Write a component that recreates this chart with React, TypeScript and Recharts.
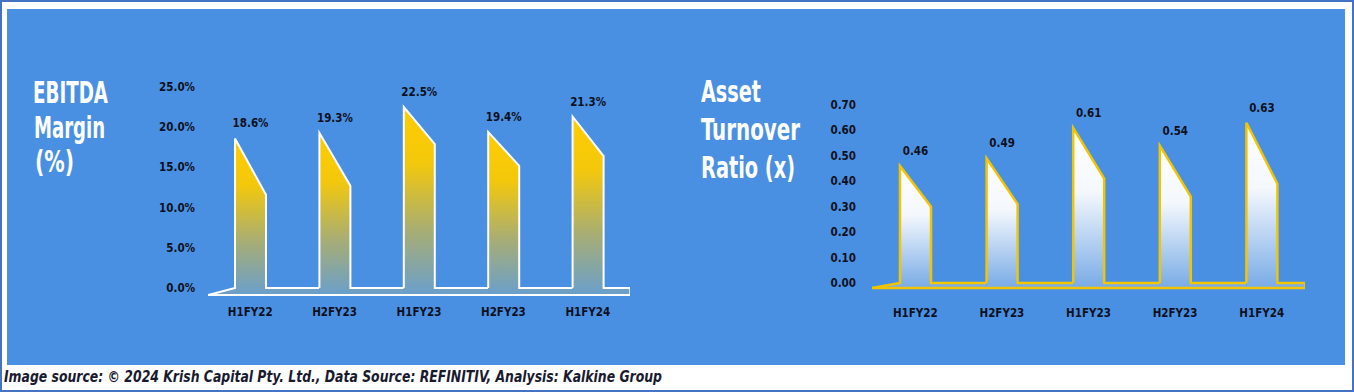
import { ComposedChart, Bar, XAxis, YAxis, ReferenceLine, LabelList } from 'recharts'

const categories = ['H1FY22', 'H2FY23', 'H1FY23', 'H2FY23', 'H1FY24']

const ebitdaMargin   = [18.6, 19.3, 22.5, 19.4, 21.3]
const ebitdaShoulder = [11.6, 12.7, 17.9, 15.2, 16.4]
const ebitdaTicks    = [0, 5, 10, 15, 20, 25]

const assetTurnover = [0.46, 0.49, 0.61, 0.54, 0.63]
const assetShoulder = [0.30, 0.31, 0.41, 0.34, 0.39]
const assetTicks    = [0, 0.1, 0.2, 0.3, 0.4, 0.5, 0.6, 0.7]

const EB_MIN = -0.87
const AT_MIN = -0.02

const tickFont = { fontSize: 11.5, fontWeight: 700, fill: '#0d1020', fontFamily: "'DejaVu Sans Condensed', sans-serif" }

const ebData = categories.map((c, i) => ({ cat: c, value: ebitdaMargin[i], shoulder: ebitdaShoulder[i] }))
const atData = categories.map((c, i) => ({ cat: c, value: assetTurnover[i], shoulder: assetShoulder[i] }))

type ShapeCfg = { min: number; band: number; count: number; fill: string; stroke: string; sw: number }

const pts = (p: number[][]) => p.map((q, i) => `${i ? 'L' : 'M'}${q[0]},${q[1]}`).join(' ')

// pentagon "flag" bar with a flat connector to the next one
const flagShape = (cfg: ShapeCfg) => (props: any) => {
  const { x, y, width: w, height: h, payload, index } = props
  const floor = y + h
  const ppu = h / (payload.value - cfg.min)
  const base = floor + cfg.min * ppu
  const sh = floor - (payload.shoulder - cfg.min) * ppu
  const half = (cfg.band - w) / 2
  const last = index === cfg.count - 1
  const rightEnd = last ? x + w + half : x + w + 2 * half
  const outline: number[][] = []
  if (index === 0) outline.push([x - half, floor])
  outline.push([x, base], [x, y], [x + w, sh], [x + w, base], [rightEnd, base])
  if (last) outline.push([rightEnd, floor])
  const fillPts = [[index === 0 ? x - half : x, floor], ...outline, [rightEnd, floor]]
  return (
    <g>
      <path d={pts(fillPts) + ' Z'} fill={cfg.fill} stroke="none" />
      <path d={pts(outline)} fill="none" stroke={cfg.stroke} strokeWidth={cfg.sw} strokeLinejoin="miter" />
    </g>
  )
}

const SY = 1.36
const titleLines = [
  { t: 'EBITDA', x: 33, y: 103, w: 75 },
  { t: 'Margin', x: 34, y: 138, w: 71 },
  { t: '(%)', x: 35, y: 172, w: 39 },
  { t: 'Asset', x: 701, y: 102, w: 60 },
  { t: 'Turnover', x: 701, y: 140, w: 99 },
  { t: 'Ratio (x)', x: 701, y: 178, w: 94 },
]

export default function App() {
  return (
    <div style={{ position: 'absolute', left: 0, top: 0, width: 1354, height: 392, boxSizing: 'border-box',
      border: '2px solid #4472c4', background: '#fff', overflow: 'hidden' }}>
      <div style={{ position: 'absolute', left: 5, top: 7, width: 1338, height: 356, background: '#4a90e2' }} />

      <svg width={1354} height={392} style={{ position: 'absolute', left: -2, top: -2 }}>
        <g fill="#ffffff" fontFamily="'DejaVu Sans Condensed', sans-serif" fontWeight={700} fontSize={22}
          transform={`scale(1,${SY})`}>
          {titleLines.map((l) => (
            <text key={l.t + l.x} x={l.x} y={l.y / SY} textLength={l.w} lengthAdjust="spacingAndGlyphs">{l.t}</text>
          ))}
        </g>
        <text x={4} y={382} fill="#1a1a2e" fontFamily="'DejaVu Sans Condensed', sans-serif" fontWeight={700}
          fontStyle="italic" fontSize={15} textLength={658} lengthAdjust="spacingAndGlyphs">
          Image source: © 2024 Krish Capital Pty. Ltd., Data Source: REFINITIV, Analysis: Kalkine Group
        </text>
      </svg>

      <div style={{ position: 'absolute', left: 138, top: 68 }}>
        <ComposedChart width={490} height={265} data={ebData} margin={{ top: 17, right: 0, left: 0, bottom: 0 }}>
          <defs>
            <linearGradient id="ebGradIn" x1="0" y1="0" x2="0" y2="1">
              <stop offset="0" stopColor="#ffcc00" />
              <stop offset="0.3" stopColor="#f3c80c" />
              <stop offset="0.65" stopColor="#a9ae72" />
              <stop offset="1" stopColor="#6a9fcc" />
            </linearGradient>
          </defs>
          <XAxis dataKey="cat" axisLine={false} tickLine={false} tickSize={0} tickMargin={13} interval={0}
            height={40} tick={tickFont} />
          <YAxis type="number" domain={[EB_MIN, 25]} ticks={ebitdaTicks} axisLine={false} tickLine={false}
            tickSize={0} tickMargin={13} width={68} tick={tickFont} tickFormatter={(v: number) => v.toFixed(1) + '%'} />
          <ReferenceLine y={EB_MIN} stroke="#ffffff" strokeWidth={2} />
          <Bar dataKey={(d: any) => [EB_MIN, d.value]} barSize={31} isAnimationActive={false}
            shape={flagShape({ min: EB_MIN, band: 422 / 5, count: 5, fill: 'url(#ebGradIn)', stroke: '#ffffff', sw: 2 })}>
            <LabelList dataKey="value" position="top" offset={11} style={tickFont}
              formatter={(v: any) => Number(v).toFixed(1) + '%'} />
          </Bar>
        </ComposedChart>
      </div>

      <div style={{ position: 'absolute', left: 798, top: 83 }}>
        <ComposedChart width={505} height={245} data={atData} margin={{ top: 20, right: 0, left: 0, bottom: 0 }}>
          <defs>
            <linearGradient id="atGradIn" x1="0" y1="0" x2="0" y2="1">
              <stop offset="0" stopColor="#ffffff" />
              <stop offset="0.4" stopColor="#f4f8fd" />
              <stop offset="1" stopColor="#78abe6" />
            </linearGradient>
          </defs>
          <XAxis dataKey="cat" axisLine={false} tickLine={false} tickSize={0} tickMargin={21} interval={0}
            height={42} tick={tickFont} />
          <YAxis type="number" domain={[AT_MIN, 0.7]} ticks={assetTicks} axisLine={false} tickLine={false}
            tickSize={0} tickMargin={16} width={72} tick={tickFont} tickFormatter={(v: number) => v.toFixed(2)} />
          <ReferenceLine y={AT_MIN} stroke="#f2c500" strokeWidth={2.5} />
          <Bar dataKey={(d: any) => [AT_MIN, d.value]} barSize={31} isAnimationActive={false}
            shape={flagShape({ min: AT_MIN, band: 433 / 5, count: 5, fill: 'url(#atGradIn)', stroke: '#f2c500', sw: 2.5 })}>
            <LabelList dataKey="value" position="top" offset={11} style={tickFont}
              formatter={(v: any) => Number(v).toFixed(2)} />
          </Bar>
        </ComposedChart>
      </div>
    </div>
  )
}
